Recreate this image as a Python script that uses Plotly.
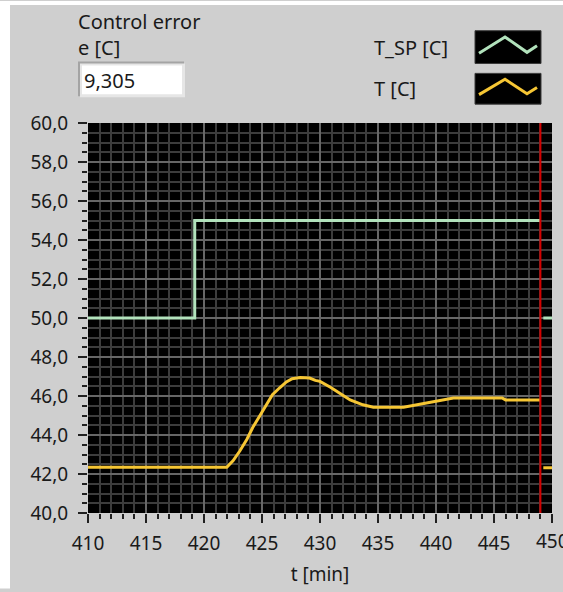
import plotly.graph_objects as go

# ---------------- data ----------------
t_sp = [410, 419.2, 449]
sp_vals = [50.0, 55.0, 55.0]

t_T = [410, 421.96, 422.5, 423.1, 423.7, 424.2, 424.8, 425.4, 425.9, 426.5, 427.1, 427.6,
       428.3, 429.1, 429.6, 430.0, 430.9, 431.8, 432.6, 433.7, 434.6, 437.2, 438.4,
       440.1, 441.5, 445.7, 446.0, 449.0]
T_vals = [42.34, 42.34, 42.68, 43.19, 43.78, 44.38, 44.97, 45.56, 46.07, 46.41, 46.72, 46.89,
          46.95, 46.92, 46.8, 46.75, 46.45, 46.1, 45.8, 45.55, 45.42, 45.42, 45.56,
          45.77, 45.9, 45.9, 45.8, 45.8]

# older data still shown after the sweep cursor
t_old = [449.25, 450]
sp_old = [50.0, 50.0]
T_old = [42.32, 42.32]

cursor_t = 449
control_error = "9,305"
x_ticks = [410, 415, 420, 425, 430, 435, 440, 445, 450]
y_ticks = [40, 42, 44, 46, 48, 50, 52, 54, 56, 58, 60]

# ---------------- style ----------------
W, H = 563, 592
L, R, T, B = 88, 552, 123, 516
BG = "#CFCFCF"
GREEN = "#B2E2BC"
YELLOW = "#F6C634"
FONT = "Noto Sans"
FS = 19
FS_TXT = 20


def px(x):
    return (x - L) / (R - L)


def py(y):
    return (B - y) / (B - T)


fig = go.Figure()
fig.add_trace(go.Scatter(x=t_sp, y=sp_vals, mode="lines", line=dict(color=GREEN, width=3, shape="hv"),
                         name="T_SP [C]", showlegend=False))
fig.add_trace(go.Scatter(x=t_T, y=T_vals, mode="lines", line=dict(color=YELLOW, width=3),
                         name="T [C]", showlegend=False))
fig.add_trace(go.Scatter(x=t_old, y=sp_old, mode="lines", line=dict(color=GREEN, width=3),
                         showlegend=False))
fig.add_trace(go.Scatter(x=t_old, y=T_old, mode="lines", line=dict(color=YELLOW, width=3),
                         showlegend=False))

shapes = []
# sweep cursor
shapes.append(dict(type="line", xref="x", yref="paper", x0=cursor_t, x1=cursor_t, y0=0, y1=1,
                   line=dict(color="#D40000", width=2)))
# white page strips
shapes.append(dict(type="rect", xref="paper", yref="paper", x0=px(0), x1=px(10), y0=py(0), y1=py(H),
                   fillcolor="white", line=dict(width=0), layer="above"))
shapes.append(dict(type="rect", xref="paper", yref="paper", x0=px(0), x1=px(W), y0=py(0), y1=py(4),
                   fillcolor="white", line=dict(width=0), layer="above"))
# numeric indicator box
shapes.append(dict(type="rect", xref="paper", yref="paper", x0=px(78), x1=px(184), y0=py(61), y1=py(96),
                   fillcolor="#A4A4A4", line=dict(width=0)))
shapes.append(dict(type="rect", xref="paper", yref="paper", x0=px(80), x1=px(185), y0=py(63), y1=py(97),
                   fillcolor="#E6E6E6", line=dict(width=0)))
shapes.append(dict(type="rect", xref="paper", yref="paper", x0=px(82), x1=px(182), y0=py(65), y1=py(94),
                   fillcolor="white", line=dict(width=0)))
# legend swatches
for (y0, y1, col) in [(30, 63, GREEN), (73, 104, YELLOW)]:
    shapes.append(dict(type="rect", xref="paper", yref="paper", x0=px(475), x1=px(541), y0=py(y0), y1=py(y1),
                       fillcolor="black", line=dict(color="#3A3A3A", width=1)))
    h = y1 - y0
    pts = [(479, y0 + 0.69 * h), (505, y0 + 0.19 * h), (527, y0 + 0.66 * h), (537, y0 + 0.46 * h)]
    path = "M " + " L ".join(f"{px(a):.5f},{py(b):.5f}" for a, b in pts)
    shapes.append(dict(type="path", xref="paper", yref="paper", path=path,
                       line=dict(color=col, width=3)))

annotations = []


def txt(s, x, y, anchor="left"):
    annotations.append(dict(text=s, xref="paper", yref="paper", x=px(x), y=py(y), xanchor=anchor,
                            yanchor="middle", showarrow=False,
                            font=dict(family=FONT, size=FS_TXT, color="#1A1A1A")))


txt("Control error", 76, 21)
txt("e [C]", 76, 47)
txt(control_error, 82, 80)
txt("T_SP [C]", 372, 47)
txt("T [C]", 372, 88)

# last x tick label sits on the page edge and is cut off there, as in the original
annotations.append(dict(text=str(x_ticks[-1]), xref="x", yref="paper", x=x_ticks[-1], y=py(544),
                        xanchor="center", yanchor="middle", showarrow=False,
                        font=dict(family=FONT, size=FS, color="#1A1A1A")))

fig.update_layout(
    width=W, height=H, autosize=False,
    margin=dict(l=L, r=W - R, t=T, b=H - B, pad=0),
    paper_bgcolor=BG, plot_bgcolor="black",
    font=dict(family=FONT, size=FS, color="#1A1A1A"),
    shapes=shapes, annotations=annotations,
    showlegend=False,
)
fig.update_xaxes(
    range=[410, 450], tickvals=x_ticks, ticktext=[str(v) for v in x_ticks],
    ticks="outside", ticklen=9, tickwidth=2, tickcolor="#202020",
    showgrid=True, gridcolor="#666666", gridwidth=2, zeroline=False,
    minor=dict(dtick=1, tick0=410, ticks="outside", ticklen=5, tickwidth=2, tickcolor="#202020",
               showgrid=True, gridcolor="#3C3C3C", gridwidth=2),
    ticklabelstandoff=4,
    title=dict(text="t [min]", standoff=12, font=dict(family=FONT, size=FS)),
    showline=False, fixedrange=True,
)
fig.update_yaxes(
    range=[40, 60], tickvals=y_ticks, ticktext=[f"{v:.1f}".replace(".", ",") for v in y_ticks],
    ticks="outside", ticklen=9, tickwidth=2, tickcolor="#202020",
    showgrid=True, gridcolor="#666666", gridwidth=2, zeroline=False,
    minor=dict(dtick=0.5, tick0=40, ticks="outside", ticklen=5, tickwidth=2, tickcolor="#202020",
               showgrid=True, gridcolor="#3C3C3C", gridwidth=2),
    ticklabelstandoff=6,
    showline=False, fixedrange=True,
)

clip_js = "document.body.style.margin='0';document.body.style.overflow='hidden';"

fig.write_html("out.html", config={"displayModeBar": False}, post_script=clip_js)
